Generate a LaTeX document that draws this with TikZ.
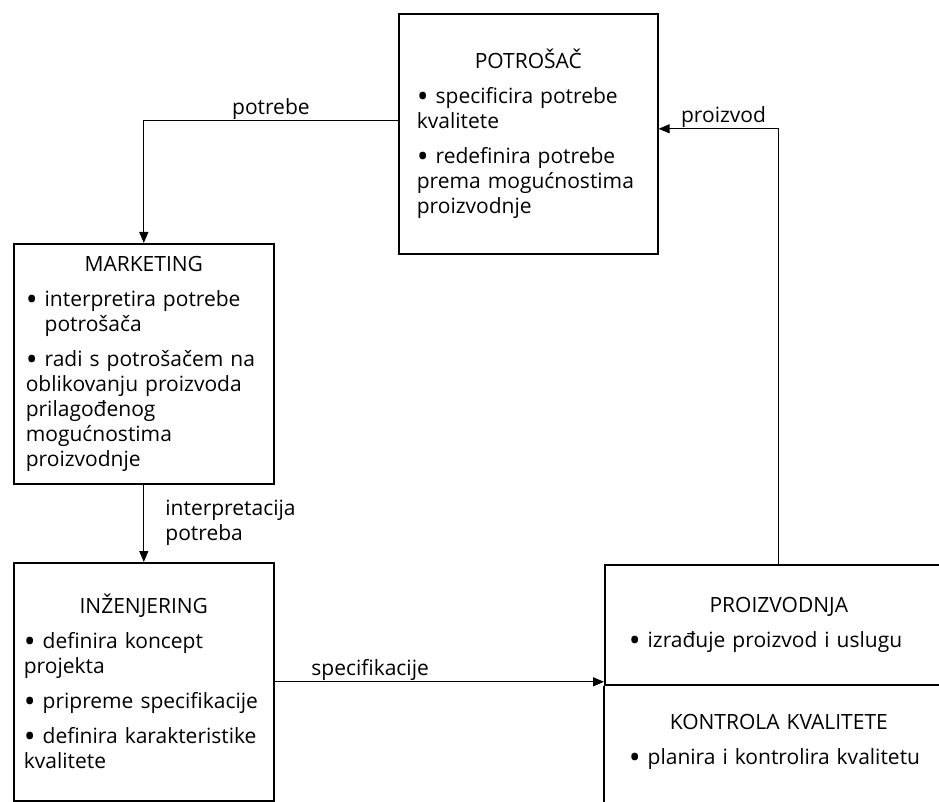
\documentclass[tikz,border=0pt]{standalone}
\usepackage{fontspec}
\usepackage{graphicx}
\setmainfont{Open Sans}
\usetikzlibrary{arrows.meta,positioning}
\hyphenpenalty=10000
\exhyphenpenalty=10000
\newcommand\tocka{\raisebox{-4pt}{\scalebox{1.5}{•}}}

\begin{document}
\begin{tikzpicture}[x=1pt, y=-1pt,
  font=\fontsize{21}{25}\selectfont,
  blok/.style={rectangle, draw=black, line width=1.6pt, anchor=north west, align=left, inner ysep=0pt},
  veza/.style={-{Triangle[length=11pt,width=9pt]}, line width=1.2pt},
  oznaka/.style={inner sep=1pt}]
  \useasboundingbox (0,0) rectangle (939,802);
  \fill[white] (0,0) rectangle (939,802);
  \clip (0,0) rectangle (939,802);

  % Potrosac block (top)
  \node (potrosac) [blok, text width=223pt, inner xsep=18pt, minimum height=240pt] at (398,13) {\makebox[\linewidth]{POTROŠAČ}\\[10pt]
    \tocka\ specificira potrebe\\ kvalitete\\[10pt]
    \tocka\ redefinira potrebe\\ prema mogućnostima\\ proizvodnje};

  % Marketing and engineering blocks (left)
  \node (marketing) [blok, text width=236pt, inner xsep=12pt, minimum height=240pt] at (13,243) {\makebox[\linewidth]{MARKETING}\\[10pt]
    \tocka\ interpretira potrebe\\ \hphantom{\tocka\ }potrošača\\[10pt]
    \tocka\ radi s potrošačem~na\\ oblikovanju proizvoda\\ prilagođenog\\ mogućnostima\\ proizvodnje};
  \node (inzenjering) [blok, text width=240pt, inner xsep=10pt, minimum height=238pt] at (13,562) {\makebox[\linewidth]{INŽENJERING}\\[10pt]
    \tocka\ definira koncept\\ projekta\\[10pt]
    \tocka\ pripreme specifikacije\\[10pt]
    \tocka\ definira karakteristike\\ kvalitete};

  % Production and quality control block (right, cut off)
  \node (proizvodnja) [blok, text width=300pt, inner xsep=24pt, minimum height=120pt] at (604,564) {\makebox[\linewidth]{PROIZVODNJA}\\[10pt]
    \tocka\ izrađuje proizvod i uslugu};
  \node (kontrola) [blok, draw=none, text width=300pt, inner xsep=24pt, minimum height=112pt, below=0pt of proizvodnja.south west, anchor=north west] {\makebox[\linewidth]{KONTROLA KVALITETE}\\[10pt]
    \tocka\ planira i kontrolira kvalitetu};
  \draw [line width=1.6pt] (kontrola.north west) -- ([yshift=-30pt]kontrola.south west);

  % Connecting arrows
  \draw [veza] ([yshift=13pt]potrosac.west) -| node[oznaka, above, pos=0.25] {potrebe} (marketing.north);
  \draw [veza] (marketing.south) -- node[oznaka, right=20pt, align=left] {interpretacija\\potreba} (inzenjering.north);
  \draw [veza] (inzenjering.east) -- node[oznaka, above, pos=0.29] {specifikacije} (inzenjering.east -| proizvodnja.west);
  \draw [veza] (proizvodnja.north) |- node[oznaka, above, pos=0.73] {proizvod} ([yshift=5pt]potrosac.east);
\end{tikzpicture}
\end{document}
